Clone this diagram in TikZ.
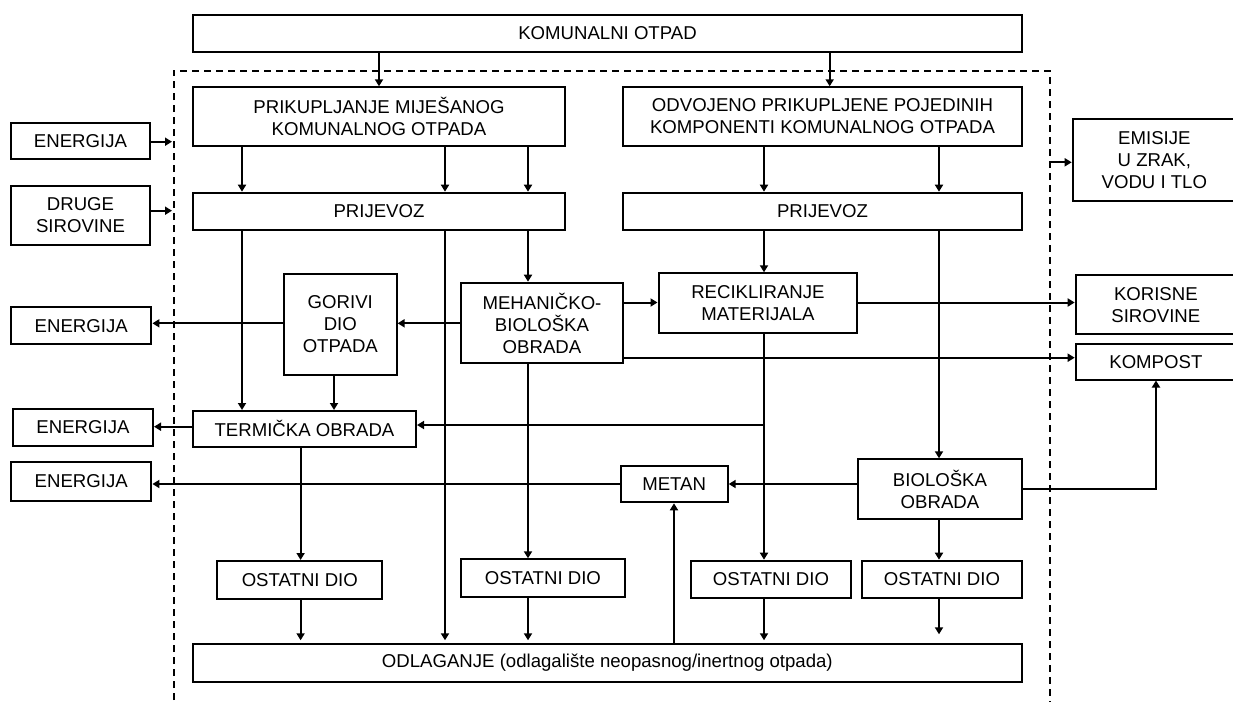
\documentclass[tikz,border=0pt]{standalone}
\usepackage{fontspec}
\setmainfont{Liberation Sans}
\usetikzlibrary{arrows.meta,fit}
\begin{document}
\begin{tikzpicture}[x=0.5pt,y=-0.5pt,
  box/.style={draw,line width=1pt,inner sep=0pt},
  lbl/.style={align=center,inner sep=0pt,font=\fontsize{9.3}{11}\selectfont},
  arr/.style={line width=1pt,-{Triangle[length=3.5pt,width=4pt]}},
  dbox/.style={line width=1pt,dash pattern=on 3.5pt off 2.5pt}]
\useasboundingbox (0,0) rectangle (1233,702);
% boxes
\node[box,fit={(193,15)(1022,52)},label={[lbl]center:KOMUNALNI OTPAD}] (KOM) {};
\node[box,fit={(193,87.3)(565,145.7)},label={[lbl]center:{PRIKUPLJANJE MIJEŠANOG\\KOMUNALNOG OTPADA}}] (PRIK) {};
\node[box,fit={(623,87.3)(1022,145.7)},label={[lbl]center:{ODVOJENO PRIKUPLJENE POJEDINIH\\KOMPONENTI KOMUNALNOG OTPADA}}] (ODV) {};
\node[box,fit={(11,122.7)(150,159.3)},label={[lbl]center:ENERGIJA}] (E1) {};
\node[box,fit={(11,186)(150,245)},label={[lbl]center:{DRUGE\\SIROVINE}}] (DS) {};
\node[box,fit={(1072.7,119.3)(1236,201)},label={[lbl]center:{EMISIJE\\U ZRAK,\\VODU I TLO}}] (EM) {};
\node[box,fit={(193,192.7)(565,230)},label={[lbl]center:PRIJEVOZ}] (P1) {};
\node[box,fit={(623,192.7)(1022,230)},label={[lbl]center:PRIJEVOZ}] (P2) {};
\node[box,fit={(284,274)(396.6,375)},label={[lbl]center:{GORIVI\\DIO\\OTPADA}}] (GOR) {};
\node[box,fit={(460.7,282.7)(623.3,363.3)},label={[lbl]center:{MEHANIČKO-\\BIOLOŠKA\\OBRADA}}] (MEH) {};
\node[box,fit={(658.5,273.3)(857.4,332.7)},label={[lbl]center:{RECIKLIRANJE\\MATERIJALA}}] (REC) {};
\node[box,fit={(1075.7,275)(1236,334.3)},label={[lbl]center:{KORISNE\\SIROVINE}}] (KOR) {};
\node[box,fit={(1075.7,344)(1236,379.5)},label={[lbl]center:KOMPOST}] (KOMP) {};
\node[box,fit={(11,307.3)(151.4,344)},label={[lbl]center:ENERGIJA}] (E2) {};
\node[box,fit={(193,411)(416,446.7)},label={[lbl]center:TERMIČKA OBRADA}] (TERM) {};
\node[box,fit={(13,409)(153,446)},label={[lbl]center:ENERGIJA}] (E3) {};
\node[box,fit={(11,462.3)(151.4,500.7)},label={[lbl]center:ENERGIJA}] (E4) {};
\node[box,fit={(620.7,465.7)(727.7,502.3)},label={[lbl]center:METAN}] (MET) {};
\node[box,fit={(858,459.3)(1022,519.3)},label={[lbl]center:{BIOLOŠKA\\OBRADA}}] (BIO) {};
\node[box,fit={(217.3,561)(382.3,599)},label={[lbl]center:OSTATNI DIO}] (O1) {};
\node[box,fit={(460.7,559.3)(625,597.3)},label={[lbl]center:OSTATNI DIO}] (O2) {};
\node[box,fit={(691,560.7)(851,597.7)},label={[lbl]center:OSTATNI DIO}] (O3) {};
\node[box,fit={(862,560.7)(1022,598)},label={[lbl]center:OSTATNI DIO}] (O4) {};
\node[box,fit={(192.7,644.3)(1022,681.7)},label={[lbl]center:{ODLAGANJE (odlagalište neopasnog/inertnog otpada)}}] (ODL) {};
% system boundary
\draw[dbox] (173.5,712) -- (173.5,70.7) -- (1049.5,70.7) -- (1049.5,712);
% helper coordinates
\coordinate (xA) at (379,0);
\coordinate (xB) at (829.7,0);
\coordinate (x242) at (242,0);
\coordinate (x445) at (445,0);
\coordinate (x528) at (528,0);
\coordinate (x764) at (764,0);
\coordinate (x939) at (939,0);
\coordinate (x334) at (334,0);
\coordinate (x300) at (300.6,0);
\coordinate (x674) at (674,0);
\coordinate (x1156) at (1156,0);
\coordinate (xdl) at (172,0);
\coordinate (xdr) at (1051,0);
\coordinate (y141) at (0,141.7);
\coordinate (y210) at (0,210.7);
\coordinate (y162) at (0,162.3);
\coordinate (y323) at (0,323.3);
\coordinate (y427) at (0,426.7);
\coordinate (y302) at (0,302.5);
\coordinate (y358) at (0,357.7);
\coordinate (y484) at (0,484);
\coordinate (y489) at (0,489.3);
\coordinate (j1) at (764,425);
% connectors
\draw[arr] (KOM.south -| xA) -- (PRIK.north -| xA);
\draw[arr] (KOM.south -| xB) -- (ODV.north -| xB);
\draw[arr] (E1.east |- y141) -- (xdl |- y141);
\draw[arr] (DS.east |- y210) -- (xdl |- y210);
\draw[arr] (xdr |- y162) -- (EM.west |- y162);
\foreach \c in {x242,x445,x528} \draw[arr] (PRIK.south -| \c) -- (P1.north -| \c);
\foreach \c in {x764,x939} \draw[arr] (ODV.south -| \c) -- (P2.north -| \c);
\draw[arr] (P1.south -| x242) -- (TERM.north -| x242);
\draw[arr,shorten >=1.5pt] (P1.south -| x445) -- (ODL.north -| x445);
\draw[arr] (P1.south -| x528) -- (MEH.north -| x528);
\draw[arr] (P2.south -| x764) -- (REC.north -| x764);
\draw[arr] (P2.south -| x939) -- (BIO.north -| x939);
\draw[arr] (MEH.west |- y323) -- (GOR.east |- y323);
\draw[arr] (GOR.west |- y323) -- (E2.east |- y323);
\draw[arr] (GOR.south -| x334) -- (TERM.north -| x334);
\draw[arr] (TERM.west |- y427) -- (E3.east |- y427);
\draw[arr] (REC.south -| x764) -- (O3.north -| x764);
\draw[arr] (j1) -- (TERM.east |- j1);
\draw[arr] (MEH.east |- y302) -- (REC.west |- y302);
\draw[arr] (REC.east |- y302) -- (KOR.west |- y302);
\draw[arr] (MEH.east |- y358) -- (KOMP.west |- y358);
\draw[arr] (MEH.south -| x528) -- (O2.north -| x528);
\draw[arr] (TERM.south -| x300) -- (O1.north -| x300);
\draw[arr] (BIO.west |- y484) -- (MET.east |- y484);
\draw[arr] (MET.west |- y484) -- (E4.east |- y484);
\draw[arr] (ODL.north -| x674) -- (MET.south -| x674);
\draw[arr] (BIO.east |- y489) -| (KOMP.south -| x1156);
\draw[arr] (BIO.south -| x939) -- (O4.north -| x939);
\draw[arr,shorten >=1.5pt] (O1.south -| x300) -- (ODL.north -| x300);
\draw[arr,shorten >=1.5pt] (O2.south -| x528) -- (ODL.north -| x528);
\draw[arr,shorten >=1.5pt] (O3.south -| x764) -- (ODL.north -| x764);
\draw[arr,shorten >=4.5pt] (O4.south -| x939) -- (ODL.north -| x939);
\end{tikzpicture}
\end{document}
